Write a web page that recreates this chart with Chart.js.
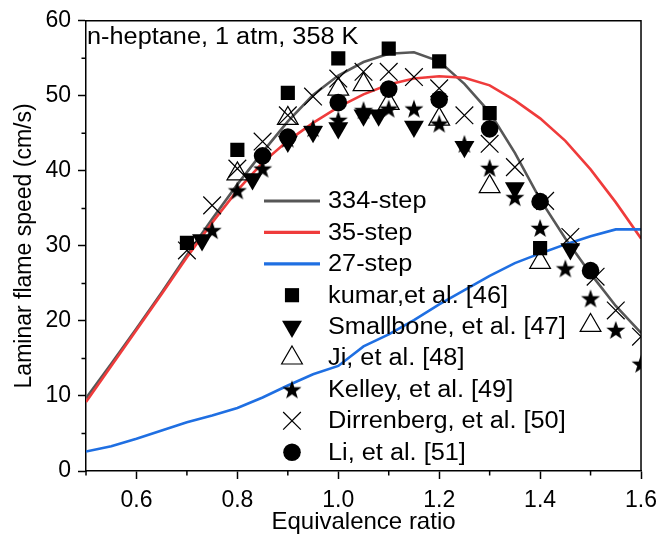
<!DOCTYPE html>
<html>
<head>
<meta charset="utf-8">
<script src="https://cdn.jsdelivr.net/npm/chart.js@4"></script>
<style>
  html, body { margin: 0; padding: 0; background: #fff; }
  #wrap { width: 665px; height: 539px; }
</style>
</head>
<body>
<div id="wrap"><canvas id="myChart" width="665" height="539"></canvas></div>
<script>
// equivalence ratio grid for the model curves
const phi = [0.5, 0.55, 0.6, 0.65, 0.7, 0.75, 0.8, 0.85, 0.9, 0.95, 1.0, 1.05,
             1.1, 1.15, 1.2, 1.25, 1.3, 1.35, 1.4, 1.45, 1.5, 1.55, 1.6];
const step334 = [9.7, 14.3, 19.0, 23.8, 28.8, 33.6, 38.2, 42.5, 46.6, 50.1, 52.7, 54.5,
                 55.6, 55.8, 54.6, 51.6, 47.8, 42.4, 36.2, 31.0, 26.3, 22.0, 18.4];
const step35 = [9.2, 14.0, 18.8, 23.6, 28.5, 33.1, 37.4, 41.1, 44.0, 46.4, 48.5, 50.2,
                51.5, 52.3, 52.6, 52.4, 51.4, 49.4, 47.0, 44.0, 40.2, 35.8, 31.0];
const step27 = [2.6, 3.3, 4.3, 5.4, 6.5, 7.4, 8.4, 9.8, 11.4, 12.9, 14.0, 16.6,
                18.2, 20.1, 22.2, 24.1, 26.0, 27.7, 29.0, 30.2, 31.3, 32.2, 32.2];

// measurements
const kumarPhi = [0.7, 0.8, 0.9, 1.0, 1.1, 1.2, 1.3, 1.4];
const kumarSL  = [30.4, 42.8, 50.4, 55.0, 56.3, 54.6, 47.7, 29.7];
const smallbonePhi = [0.73, 0.83, 0.9, 0.95, 1.0, 1.05, 1.08, 1.15, 1.25, 1.35, 1.46];
const smallboneSL  = [30.8, 38.9, 43.9, 45.2, 45.7, 47.4, 47.4, 45.9, 43.2, 37.7, 29.6];
const jiPhi = [0.8, 0.9, 1.0, 1.05, 1.1, 1.2, 1.3, 1.4, 1.5];
const jiSL  = [39.6, 47.0, 50.9, 51.5, 49.0, 46.9, 37.9, 27.8, 19.4];
const kelleyPhi = [0.75, 0.8, 0.85, 0.9, 0.95, 1.0, 1.05, 1.1, 1.15, 1.2, 1.25,
                   1.3, 1.35, 1.4, 1.45, 1.5, 1.55, 1.6];
const kelleySL  = [32.1, 37.4, 40.3, 44.3, 45.7, 46.8, 48.1, 48.3, 48.3, 46.3, 43.6,
                   40.4, 36.5, 32.4, 27.0, 23.0, 18.8, 14.3];
const dirrPhi = [0.7, 0.75, 0.8, 0.85, 0.9, 0.95, 1.0, 1.05, 1.1, 1.15, 1.2, 1.25,
                 1.3, 1.35, 1.41, 1.46, 1.51, 1.55, 1.6];
const dirrSL  = [29.4, 35.4, 40.3, 43.9, 47.4, 49.9, 52.3, 53.2, 53.2, 52.5, 51.0, 47.4,
                 43.6, 40.5, 36.0, 31.2, 25.9, 21.4, 17.9];
const liPhi = [0.85, 0.9, 1.0, 1.1, 1.2, 1.3, 1.4, 1.5];
const liSL  = [42.0, 44.5, 49.1, 50.9, 49.5, 45.6, 35.9, 26.7];

const xTicks = { min: 0.5, max: 1.6, step: 0.1 };
const yTicks = { min: 0, max: 60, step: 5 };

const FONT = 'Liberation Sans, Arial, sans-serif';
const FS = 23;
const WIDEN = 1.1;   // horizontal stretch for the hand-drawn labels

function pts(xs, ys) {
  return xs.map((x, i) => ({ x: x, y: ys[i] }));
}

// filled five-point star used as a point image
function makeStar(r) {
  const s = Math.ceil(r * 2 + 2);
  const c = document.createElement('canvas');
  c.width = s; c.height = s;
  const g = c.getContext('2d');
  g.translate(s / 2, s / 2 + r * 0.095);
  g.beginPath();
  for (let i = 0; i < 10; i++) {
    const rr = i % 2 === 0 ? r : r * 0.4;
    const a = -Math.PI / 2 + i * Math.PI / 5;
    g.lineTo(Math.cos(a) * rr, Math.sin(a) * rr);
  }
  g.closePath();
  g.fillStyle = '#000';
  g.fill();
  return c;
}
const star = makeStar(10);

function lineSet(label, ys, color, order) {
  return {
    type: 'line', label: label, data: pts(phi, ys),
    borderColor: color, backgroundColor: color, borderWidth: 2.6,
    pointRadius: 0, tension: 0, fill: false, order: order
  };
}

function markSet(label, xs, ys, style, opts, order) {
  return Object.assign({
    type: 'scatter', label: label, data: pts(xs, ys),
    pointStyle: style, borderColor: '#000', backgroundColor: '#000',
    pointBorderWidth: 1, order: order
  }, opts);
}

const datasets = [
  lineSet('334-step', step334, '#575757', 9),
  lineSet('35-step', step35, '#ef3b3b', 8),
  lineSet('27-step', step27, '#1f6fe2', 7),
  markSet('kumar,et al. [46]', kumarPhi, kumarSL, 'rect', { pointRadius: 10, pointBorderWidth: 0 }, 6),
  markSet('Smallbone, et al. [47]', smallbonePhi, smallboneSL, 'triangle', { pointRadius: 11.5, rotation: 180, pointBorderWidth: 0 }, 5),
  markSet('Ji, et al. [48]', jiPhi, jiSL, 'triangle', { pointRadius: 12, backgroundColor: 'rgba(0,0,0,0)', pointBorderWidth: 1.2 }, 4),
  markSet('Kelley, et al. [49]', kelleyPhi, kelleySL, star, { pointRadius: 10 }, 3),
  markSet('Dirrenberg, et al. [50]', dirrPhi, dirrSL, 'crossRot', { pointRadius: 12.5, pointBorderWidth: 1.2 }, 2),
  markSet('Li, et al. [51]', liPhi, liSL, 'circle', { pointRadius: 8.8, pointBorderWidth: 0 }, 1)
];

function wideText(ctx, text, x, y) {
  ctx.save();
  ctx.translate(x, y);
  ctx.scale(WIDEN, 1);
  ctx.fillText(text, 0, 0);
  ctx.restore();
}

// box frame, minor ticks, inner title and the legend list
const decorations = {
  id: 'decorations',
  afterDraw(chart) {
    const ctx = chart.ctx;
    const a = chart.chartArea;
    const xs = chart.scales.x, ys = chart.scales.y;
    ctx.save();
    ctx.strokeStyle = '#000';
    ctx.lineWidth = 1.5;
    ctx.beginPath();
    ctx.moveTo(a.left, a.top); ctx.lineTo(a.right, a.top); ctx.lineTo(a.right, a.bottom);
    ctx.stroke();

    // minor ticks
    ctx.beginPath();
    for (let v = xTicks.min; v <= xTicks.max + 1e-9; v += 0.2) {
      const px = xs.getPixelForValue(v);
      ctx.moveTo(px, a.bottom); ctx.lineTo(px, a.bottom + 4.5);
    }
    for (let v = 5; v < yTicks.max; v += 10) {
      const py = ys.getPixelForValue(v);
      ctx.moveTo(a.left, py); ctx.lineTo(a.left - 4.5, py);
    }
    ctx.stroke();

    ctx.fillStyle = '#000';
    ctx.font = FS + 'px ' + FONT;
    ctx.textBaseline = 'middle';
    ctx.textAlign = 'left';
    wideText(ctx, 'n-heptane, 1 atm, 358 K', a.left + 1, a.top + 17);

    // legend
    const lx0 = 264, lx1 = 320, mx = 292, tx = 328;
    let ly = 201;
    const dsets = chart.data.datasets;
    for (let i = 0; i < dsets.length; i++) {
      const d = dsets[i];
      ctx.save();
      if (d.type === 'line') {
        ctx.strokeStyle = d.borderColor;
        ctx.lineWidth = d.borderWidth + 0.6;
        ctx.beginPath(); ctx.moveTo(lx0, ly); ctx.lineTo(lx1, ly); ctx.stroke();
      } else {
        ctx.fillStyle = d.backgroundColor;
        ctx.strokeStyle = d.borderColor;
        ctx.lineWidth = d.pointBorderWidth;
        Chart.helpers.drawPoint(ctx, {
          pointStyle: d.pointStyle, rotation: d.rotation || 0,
          radius: d.pointRadius, borderWidth: d.pointBorderWidth
        }, mx, ly);
      }
      ctx.restore();
      wideText(ctx, d.label, tx, ly + 1);
      ly += 31.4;
    }
    ctx.restore();
  }
};

const ctx = document.getElementById('myChart');

new Chart(ctx, {
  data: { datasets: datasets },
  options: {
    responsive: false,
    animation: false,
    layout: { padding: { left: 0, right: 20, top: 20, bottom: 0 } },
    plugins: { legend: { display: false }, tooltip: { enabled: false } },
    scales: {
      x: {
        type: 'linear', min: xTicks.min, max: xTicks.max,
        afterFit(scale) { scale.height = 68; },
        border: { color: '#000', width: 1.5 },
        grid: {
          drawOnChartArea: false, tickLength: 8, tickWidth: 1.5,
          tickColor: (c) => (Math.round(c.tick.value * 10) % 2 === 0 ? '#000' : 'rgba(0,0,0,0)')
        },
        ticks: {
          stepSize: xTicks.step, autoSkip: false, maxRotation: 0, padding: 8,
          color: '#000', font: { family: FONT, size: FS },
          callback: (v) => (Math.round(v * 10) % 2 === 0 ? v.toFixed(1) : '')
        },
        title: {
          display: true, text: 'Equivalence ratio', color: '#000',
          font: { family: FONT, size: 24 }, padding: { top: 0, bottom: 2 }
        }
      },
      y: {
        type: 'linear', min: yTicks.min, max: yTicks.max,
        afterFit(scale) { scale.width = 86; },
        border: { color: '#000', width: 1.5 },
        grid: {
          drawOnChartArea: false, tickLength: 8, tickWidth: 1.5,
          tickColor: (c) => (Math.round(c.tick.value) % 10 === 0 ? '#000' : 'rgba(0,0,0,0)')
        },
        ticks: {
          stepSize: yTicks.step, autoSkip: false, padding: 7,
          color: '#000', font: { family: FONT, size: FS },
          callback: (v) => (Math.round(v) % 10 === 0 ? String(v) : '')
        },
        title: {
          display: true, text: 'Laminar flame speed (cm/s)', color: '#000',
          font: { family: FONT, size: FS }, padding: { top: 11, bottom: 0 }
        }
      }
    }
  },
  plugins: [decorations]
});
</script>
</body>
</html>
